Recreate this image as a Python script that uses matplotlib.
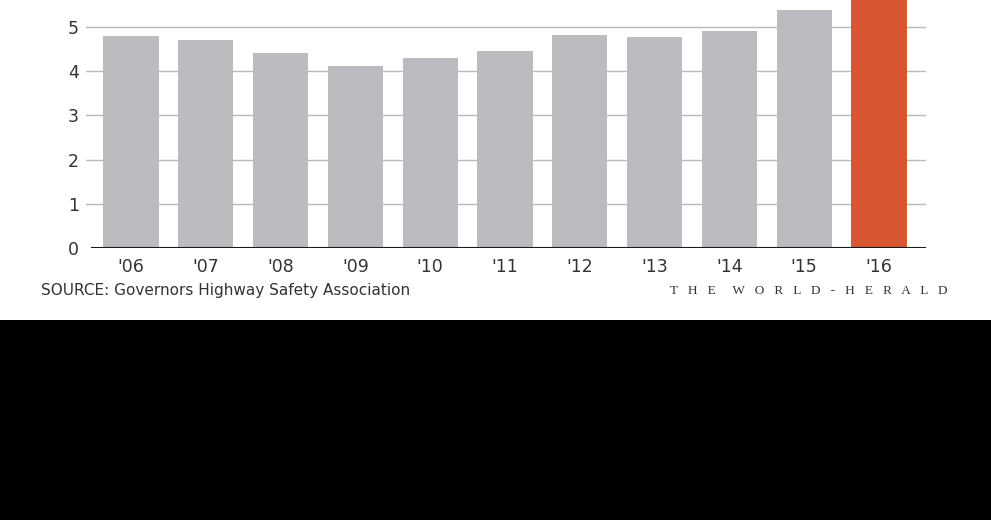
import matplotlib
matplotlib.use("Agg")
import matplotlib.pyplot as plt
from matplotlib.patches import Rectangle

years = ["'06", "'07", "'08", "'09", "'10", "'11", "'12", "'13", "'14", "'15", "'16"]
fatalities = [4.795, 4.699, 4.414, 4.109, 4.302, 4.457, 4.818, 4.779, 4.910, 5.376, 5.997]
yticks = [0, 1, 2, 3, 4, 5]
source = "SOURCE: Governors Highway Safety Association"
credit = "THE WORLD-HERALD"

W, H = 991, 520
fig = plt.figure(figsize=(W / 100, H / 100), dpi=100)
fig.patch.set_facecolor("white")
# black lower band
fig.add_artist(Rectangle((0, 0), 1, 200 / H, transform=fig.transFigure,
                         facecolor="black", edgecolor="none", zorder=0))

left, right, top, bottom = 86, 926, 0, 248
ax = fig.add_axes([left / W, (H - bottom) / H, (right - left) / W, (bottom - top) / H])
ax.set_facecolor("white")

x = list(range(len(years)))
colors = ["#bbbcbf"] * (len(years) - 1) + ["#d85632"]
ax.bar(x, fatalities, width=0.74, color=colors, zorder=2)

step = 74.8
ax.set_xlim((left - 131) / step, (right - 131) / step)
ax.set_ylim(0, 248 / 44.2)

ax.set_yticks(yticks)
ax.set_yticklabels([str(v) for v in yticks])
for v in yticks[1:]:
    ax.axhline(v, color="#b8b8b8", lw=1.0, zorder=1)
ax.axhline(0, xmin=(92 - left) / (right - left), xmax=1, color="#1a1a1a", lw=1.5, zorder=3)

ax.set_xticks(x)
ax.set_xticklabels(years)
ax.tick_params(axis="both", length=0, labelsize=12.5, colors="#333333")
ax.tick_params(axis="x", pad=7)
ax.tick_params(axis="y", pad=5)
for s in ax.spines.values():
    s.set_visible(False)

fig.text(41 / W, (H - 291) / H, source, fontsize=11, color="#333333",
         ha="left", va="center")
spaced = "     ".join("   ".join(w) for w in credit.split(" "))
fig.text(947 / W, (H - 291) / H, spaced,
         fontsize=9.5, family="Liberation Serif", color="#333333", ha="right", va="center")

fig.savefig("out.png", dpi=100, facecolor=fig.get_facecolor())
